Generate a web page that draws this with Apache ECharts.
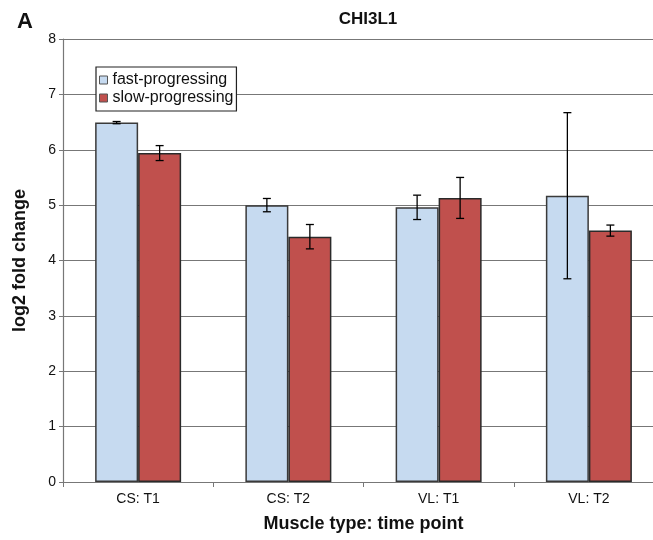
<!DOCTYPE html>
<html>
<head>
<meta charset="utf-8">
<script src="https://cdn.jsdelivr.net/npm/echarts@6/dist/echarts.min.js"></script>
<style>
html,body{margin:0;padding:0;background:#fff;overflow:hidden;width:653px;height:540px;}
#chart{width:664px;height:540px;}
</style>
</head>
<body>
<div id="chart"></div>
<script>
var categories = ['CS: T1', 'CS: T2', 'VL: T1', 'VL: T2'];
var fastMean = [6.49, 5.00, 4.96, 5.17];
var fastErr  = [0.02, 0.12, 0.22, 1.50];
var slowMean = [5.94, 4.43, 5.13, 4.54];
var slowErr  = [0.135, 0.22, 0.37, 0.10];
var yTicks = [0, 1, 2, 3, 4, 5, 6, 7, 8];

var BAR_W = 43;
var font = 'Liberation Sans, Arial, sans-serif';

function errData(mean, err) {
  return mean.map(function (m, i) { return [i, m - err[i], m + err[i]]; });
}
function errSeries(name, mean, err, offset) {
  return {
    type: 'custom',
    name: name + ' err',
    z: 10,
    silent: true,
    data: errData(mean, err),
    renderItem: function (params, api) {
      var lo = api.coord([api.value(0), api.value(1)]);
      var hi = api.coord([api.value(0), api.value(2)]);
      var x = lo[0] + offset;
      var cap = 4;
      var st = { stroke: '#000', lineWidth: 1.3 };
      return {
        type: 'group',
        children: [
          { type: 'line', shape: { x1: x, y1: lo[1], x2: x, y2: hi[1] }, style: st },
          { type: 'line', shape: { x1: x - cap, y1: lo[1], x2: x + cap, y2: lo[1] }, style: st },
          { type: 'line', shape: { x1: x - cap, y1: hi[1], x2: x + cap, y2: hi[1] }, style: st }
        ]
      };
    }
  };
}

var chart = echarts.init(document.getElementById('chart'));
chart.setOption({
  animation: false,
  backgroundColor: '#fff',
  textStyle: { fontFamily: font },
  title: [
    { text: 'CHI3L1', left: 363, top: 6, textAlign: 'center',
      textStyle: { fontSize: 17, fontWeight: 'bold', color: '#111', fontFamily: font } },
    { text: 'A', left: 12, top: 6,
      textStyle: { fontSize: 22, fontWeight: 'bold', color: '#111', fontFamily: font } }
  ],
  legend: {
    orient: 'vertical',
    left: 96, top: 67,
    padding: [4, 3, 4, 3],
    itemGap: 0,
    itemWidth: 8, itemHeight: 8,
    backgroundColor: '#fff',
    borderColor: '#222', borderWidth: 1.2,
    textStyle: { fontSize: 16, lineHeight: 18, color: '#111', fontFamily: font },
    data: [
      { name: 'fast-progressing', icon: 'rect', itemStyle: { borderColor: '#555', borderWidth: 1 } },
      { name: 'slow-progressing', icon: 'rect', itemStyle: { borderColor: '#555', borderWidth: 1 } }
    ]
  },
  grid: { left: 63, top: 39, right: 0, bottom: 58, containLabel: false },
  xAxis: {
    type: 'category',
    data: categories,
    name: 'Muscle type: time point',
    nameLocation: 'middle',
    nameGap: 33,
    nameTextStyle: { fontSize: 18, fontWeight: 'bold', color: '#111', fontFamily: font },
    axisLine: { lineStyle: { color: '#777', width: 1.2 } },
    axisTick: { show: true, length: 5, lineStyle: { color: '#777' } },
    axisLabel: { fontSize: 14, color: '#111', margin: 10, fontFamily: font },
    splitLine: { show: false }
  },
  yAxis: {
    type: 'value',
    min: yTicks[0], max: yTicks[yTicks.length - 1], interval: 1,
    name: 'log2 fold change',
    nameLocation: 'middle',
    nameGap: 34,
    nameTextStyle: { fontSize: 18, fontWeight: 'bold', color: '#111', fontFamily: font },
    axisLine: { show: true, lineStyle: { color: '#777', width: 1.2 } },
    axisTick: { show: true, length: 4, lineStyle: { color: '#777' } },
    axisLabel: { fontSize: 14, color: '#111', margin: 7, fontFamily: font },
    splitLine: { show: true, lineStyle: { color: '#777', width: 1.2 } }
  },
  series: [
    { name: 'fast-progressing', type: 'bar', data: fastMean, barWidth: BAR_W, barGap: '0%',
      itemStyle: { color: '#c6daf0', borderColor: '#3a3a3a', borderWidth: 1.5 } },
    { name: 'slow-progressing', type: 'bar', data: slowMean, barWidth: BAR_W, barGap: '0%',
      itemStyle: { color: '#c0504d', borderColor: '#2a2a2a', borderWidth: 1.5 } },
    errSeries('fast-progressing', fastMean, fastErr, -BAR_W / 2),
    errSeries('slow-progressing', slowMean, slowErr, BAR_W / 2)
  ]
});
</script>
</body>
</html>
